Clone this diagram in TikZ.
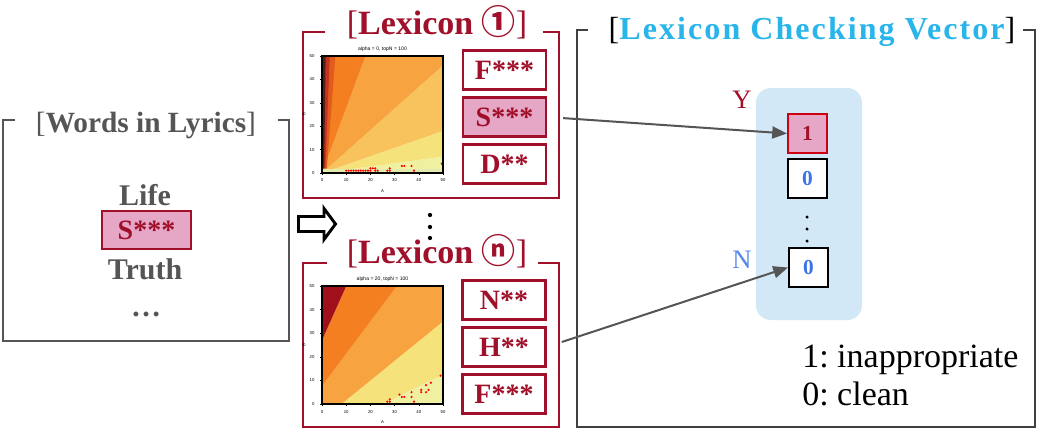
\documentclass[tikz,border=0pt]{standalone}
\usepackage{fontspec}
\setmainfont{Liberation Serif}
\newfontfamily\symfont{Noto Sans CJK JP}
\newfontfamily\plotfont{Liberation Sans}
\usetikzlibrary{arrows.meta}
\frenchspacing
\definecolor{dred}{RGB}{160,16,42}
\definecolor{pinkf}{RGB}{230,166,198}
\definecolor{gtext}{RGB}{85,85,85}
\definecolor{cyant}{RGB}{41,181,234}
\definecolor{lblue}{RGB}{211,232,247}
\definecolor{bluet}{RGB}{59,115,232}
\definecolor{redb}{RGB}{208,0,20}
\definecolor{arrowg}{RGB}{85,85,85}
% plot colours
\definecolor{pA}{RGB}{92,26,26}
\definecolor{pB}{RGB}{192,54,26}
\definecolor{pB2}{RGB}{226,90,28}
\definecolor{pC}{RGB}{244,127,32}
\definecolor{pD}{RGB}{246,163,64}
\definecolor{pE}{RGB}{248,194,92}
\definecolor{pF}{RGB}{245,226,122}
\definecolor{pG}{RGB}{239,240,160}
\definecolor{pH}{RGB}{226,234,176}
\definecolor{pR}{RGB}{160,16,26}
\begin{document}
\begin{tikzpicture}[x=0.75pt,y=-0.75pt,
  wordbox/.style={draw=dred, line width=1.9pt, fill=white, minimum width=62pt, minimum height=29.6pt, inner sep=0pt, font=\fontsize{21}{24}\selectfont\bfseries, text=dred},
  hot/.style={fill=pinkf},
  lexframe/.style={draw=dred, line width=2.2pt},
  vecbox/.style={draw=black, line width=1.6pt, fill=white, minimum size=29.25pt, inner sep=0pt, font=\fontsize{16}{18}\selectfont\bfseries},
  link/.style={draw=arrowg, line width=1.5pt, -{Triangle[length=11pt,width=9pt]}},
  lyric/.style={font=\fontsize{22.5}{26}\selectfont\bfseries, text=gtext},
  tick/.style={font=\plotfont\fontsize{3.2}{3.6}\selectfont},
  dot/.style={fill=red}
]
\useasboundingbox (0,0) rectangle (1038,429);

% ---------------- Words in Lyrics ----------------
\draw[gtext, line width=1.8pt] (15,120) -- (3,120) -- (3,341) -- (289,341) -- (289,120) -- (278,120);
\node[font=\fontsize{22}{26}\selectfont, text=gtext] (twords) at (146,125) {[\textbf{Words in Lyrics}]};
\node[lyric] (life) at (145,195) {Life};
\node[draw=dred, line width=1.5pt, fill=pinkf, minimum width=66.75pt, minimum height=28.5pt, inner sep=0pt, font=\fontsize{21}{24}\selectfont\bfseries, text=dred] (sw) at (146.5,230) {S***};
\node[lyric] (truth) at (145,269) {Truth};
\node[lyric, anchor=base] (dots) at (146,316) {…};

% hollow arrow
\draw[line width=2.2pt, fill=white, miter limit=10] (298.5,216.5) -- (324,216.5) -- (324,208.5) -- (335.5,224) -- (324,239.5) -- (324,231.5) -- (298.5,231.5) -- cycle;

% ---------------- Lexicon 1 ----------------
\draw[lexframe] (325,32) -- (303,32) -- (303,198) -- (559,198) -- (559,32) -- (543,32);
\node[font=\fontsize{25.5}{30}\selectfont, text=dred] (tlex1) at (437,22) {[\textbf{Lexicon {\symfont ①}}]};
\node[wordbox] (f1) at (504.5,70) {F***};
\node[wordbox, hot] (s1) at (504.5,117) {S***};
\node[wordbox] (d1) at (504.5,164) {D**};

% plot 1
\begin{scope}[shift={(322,173)}, x=1.815pt, y=1.755pt]
  \fill[pG] (0,0) -- (50,7) -- (50,0) -- cycle;
  \fill[pF] (0,0) -- (50,18) -- (50,7) -- cycle;
  \fill[pE] (0,0) -- (50,46) -- (50,18) -- cycle;
  \fill[pD] (0,0) -- (18,50) -- (50,50) -- (50,46) -- cycle;
  \fill[pC] (0,0) -- (0,50) -- (18,50) -- cycle;
  \fill[pB2] (0,2) -- (0,50) -- (5.5,50) -- (2,2) -- cycle;
  \fill[pB] (0,2) -- (0,50) -- (3.2,50) -- (1.4,2) -- cycle;
  \fill[pA] (0,2) -- (0,50) -- (1.5,50) -- (0.9,2) -- cycle;
  \fill[pH] (0,0) rectangle (50,1.8);
  \foreach \p in {(10,1),(11,1),(12,1),(13,1),(14,1),(15,1),(16,1),(17,1),(18,1),(19,1),(20,1),(20,2),(21,2),(22,2),(22,1),(23,1),(27,1),(28,1),(28,2),(33,3),(34,3),(37,3),(38,1),(49.5,4),(31,0)}
    \fill[dot] \p circle[radius=0.9pt];
  \draw[line width=0.9pt] (0,0) rectangle (50,50);
  \foreach \v in {0,10,...,50} {
    \draw[line width=0.3pt] (\v,0) -- (\v,-1);
    \draw[line width=0.3pt] (0,\v) -- (-1,\v);
    \node[tick] at (\v,-3.2) {\v};
    \node[tick, anchor=east] at (-1.2,\v) {\v};
  }
  \node[tick] at (25,-7.5) {A};
  \node[tick, rotate=90] at (-7.5,25) {B};
  \node[tick, font=\plotfont\fontsize{3.8}{4.2}\selectfont] (title1) at (25,53) {alpha = 0, topN = 100};
\end{scope}

% dots between lexicons
\fill (430,215) circle[radius=1.6pt];
\fill (430,227) circle[radius=1.6pt];
\fill (430,238) circle[radius=1.6pt];

% ---------------- Lexicon n ----------------
\draw[lexframe] (327,263) -- (303,263) -- (303,427) -- (559,427) -- (559,263) -- (538,263);
\node[font=\fontsize{25.5}{30}\selectfont, text=dred] (tlexn) at (437,251) {[\textbf{Lexicon {\symfont ⓝ}}]};
\node[wordbox] (n2) at (504,300) {N**};
\node[wordbox] (h2) at (504,347) {H**};
\node[wordbox] (f2) at (504,394) {F***};

% plot 2
\begin{scope}[shift={(322,404)}, x=1.815pt, y=1.77pt]
  \fill[pG] (25,0) -- (50,12.5) -- (50,0) -- cycle;
  \fill[pF] (8,0) -- (50,35) -- (50,12.5) -- (25,0) -- cycle;
  \fill[pD] (0,0) -- (0,7.6) -- (31,50) -- (50,50) -- (50,35) -- (8,0) -- cycle;
  \fill[pC] (0,7.6) -- (0,27) -- (10,50) -- (31,50) -- cycle;
  \fill[pR] (0,27) -- (0,50) -- (10,50) -- cycle;
  \foreach \p in {(27,1),(28,1),(28,2),(28,0),(32,4),(33,3),(34,3),(37,5),(37,3),(38,1),(41,6),(41,5),(43,8),(43,5),(44,6),(45,9),(49,12),(50,4),(31,0)}
    \fill[dot] \p circle[radius=0.9pt];
  \draw[line width=0.9pt] (0,0) rectangle (50,50);
  \foreach \v in {0,10,...,50} {
    \draw[line width=0.3pt] (\v,0) -- (\v,-1);
    \draw[line width=0.3pt] (0,\v) -- (-1,\v);
    \node[tick] at (\v,-3.2) {\v};
    \node[tick, anchor=east] at (-1.2,\v) {\v};
  }
  \node[tick] at (25,-7.5) {A};
  \node[tick, rotate=90] at (-7.5,25) {B};
  \node[tick, font=\plotfont\fontsize{3.8}{4.2}\selectfont] (title2) at (25,53) {alpha = 20, topN = 100};
\end{scope}

% ---------------- Lexicon Checking Vector ----------------
\draw[black!75, line width=1.6pt] (588,30) -- (577,30) -- (577,427) -- (1035,427) -- (1035,30) -- (1023,30);
\node[font=\fontsize{24}{28}\selectfont] (tvec) at (812,32) {[{\color{cyant}\bfseries\addfontfeatures{LetterSpace=6.5}Lexicon Checking Vector}]};
\fill[lblue, rounded corners=11pt] (756,88) rectangle (862,320);
\node[vecbox, draw=redb, fill=pinkf, text=dred] (v1) at (807.5,133.5) {1};
\node[vecbox, text=bluet] (v2) at (807.5,178.5) {0};
\fill (807,217) circle[radius=1.3pt];
\fill (807,229) circle[radius=1.3pt];
\fill (807,241) circle[radius=1.3pt];
\node[vecbox, text=bluet] (vn) at (808.5,267.5) {0};
\node[font=\fontsize{20}{24}\selectfont, text=dred] (ylab) at (742,100) {Y};
\node[font=\fontsize{20}{24}\selectfont, text=bluet!85!white] (nlab) at (742,260) {N};
\node[font=\fontsize{25.5}{30}\selectfont, anchor=base west, inner sep=0pt] (leg1) at (802,367) {1: inappropriate};
\node[font=\fontsize{25.5}{30}\selectfont, anchor=base west, inner sep=0pt] (leg0) at (802,405) {0: clean};

% connectors
\draw[link, shorten <=12pt] (s1.east) -- (v1.west);
\draw[link, shorten <=12pt] (h2.east) -- (vn.west);
\end{tikzpicture}
\end{document}
